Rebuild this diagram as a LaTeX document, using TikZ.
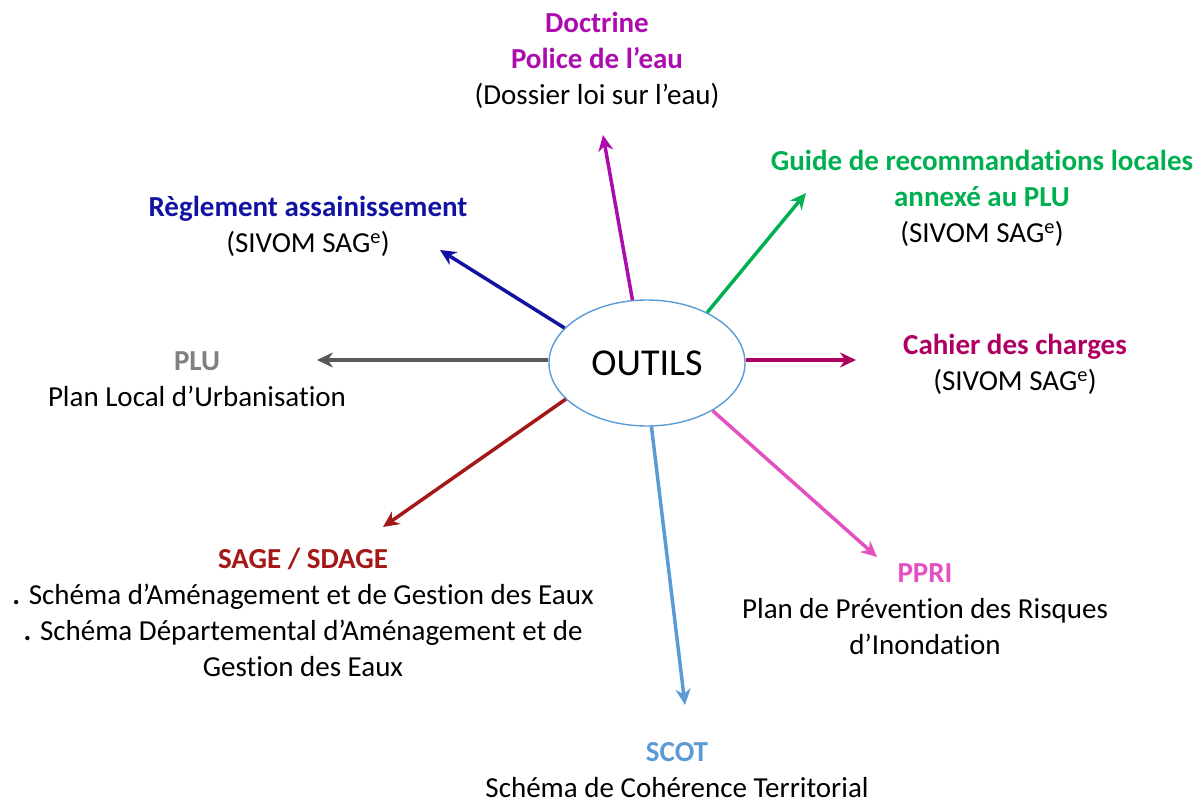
\documentclass[tikz,border=0pt]{standalone}
\usepackage{fontspec}
\setmainfont{Carlito}[Ligatures=NoCommon]
\usetikzlibrary{shapes.geometric, arrows.meta, calc}

\definecolor{doccol}{HTML}{AC0CAE}
\definecolor{guidecol}{HTML}{00B050}
\definecolor{reglcol}{HTML}{1212A2}
\definecolor{plutxt}{HTML}{808080}
\definecolor{pluarr}{HTML}{595959}
\definecolor{cahiercol}{HTML}{AE0062}
\definecolor{ppricol}{HTML}{E550C0}
\definecolor{scotcol}{HTML}{5B9BD5}
\definecolor{sagecol}{HTML}{A51818}

\begin{document}
\begin{tikzpicture}[x=1pt,y=-1pt]
    \tikzstyle{centre} = [ellipse, draw=scotcol, line width=1.4pt, minimum width=196pt, minimum height=126pt, inner sep=0pt, font=\fontsize{38}{44}\selectfont]
    \tikzstyle{label} = [align=center, inner sep=0pt, font=\fontsize{29}{36}\selectfont]
    \tikzstyle{arrow} = [line width=3.5pt,-{Stealth[length=16pt,width=15pt]}]
    \useasboundingbox (0,0) rectangle (1203,805);
    % Nodes
    \node (outils) [centre] at (647,363) {OUTILS};
    \node (doctrine) [label] at (597,60) {\textcolor{doccol}{\bfseries Doctrine}\\ \textcolor{doccol}{\bfseries Police de l’eau}\\ (Dossier loi sur l’eau)};
    \node (guide) [label] at (982,198) {\textcolor{guidecol}{\bfseries Guide de recommandations locales}\\ \textcolor{guidecol}{\bfseries annexé au PLU}\\ (SIVOM SAG\textsuperscript{e})};
    \node (reglement) [label] at (308,226) {\textcolor{reglcol}{\bfseries Règlement assainissement}\\ (SIVOM SAG\textsuperscript{e})};
    \node (cahier) [label] at (1015,364) {\textcolor{cahiercol}{\bfseries Cahier des charges}\\ (SIVOM SAG\textsuperscript{e})};
    \node (plu) [label] at (197,379) {\textcolor{plutxt}{\bfseries PLU}\\ Plan Local d’Urbanisation};
    \node (sage) [label] at (303,612) {\textcolor{sagecol}{\bfseries SAGE / SDAGE}\\ \textbf{.} Schéma d’Aménagement et de Gestion des Eaux\\ \textbf{.} Schéma Départemental d’Aménagement et de\\ Gestion des Eaux};
    \node (ppri) [label] at (925,609) {\textcolor{ppricol}{\bfseries PPRI}\\ Plan de Prévention des Risques\\ d’Inondation};
    \node (scot) [label] at (677,770) {\textcolor{scotcol}{\bfseries SCOT}\\ Schéma de Cohérence Territorial};
    % Arrow ends
    \coordinate (docend) at (603,135);
    \coordinate (guideend) at (806,193);
    \coordinate (reglend) at (440,250);
    \coordinate (cahierend) at (856,360);
    \coordinate (pluend) at (317,360);
    \coordinate (sageend) at (383,527);
    \coordinate (ppriend) at (877,557);
    \coordinate (scotend) at (685,705);
    % Arrows
    \draw [arrow, doccol] (outils.103) -- (docend);
    \draw [arrow, guidecol] (outils.40) -- (guideend);
    \draw [arrow, reglcol] (outils.157) -- (reglend);
    \draw [arrow, cahiercol] (outils.east |- cahierend) -- (cahierend);
    \draw [arrow, pluarr] (outils.west |- pluend) -- (pluend);
    \draw [arrow, sagecol] (outils.204) -- (sageend);
    \draw [arrow, ppricol] (outils.-36) -- (ppriend);
    \draw [arrow, scotcol] (outils.-86) -- (scotend);
\end{tikzpicture}
\end{document}
